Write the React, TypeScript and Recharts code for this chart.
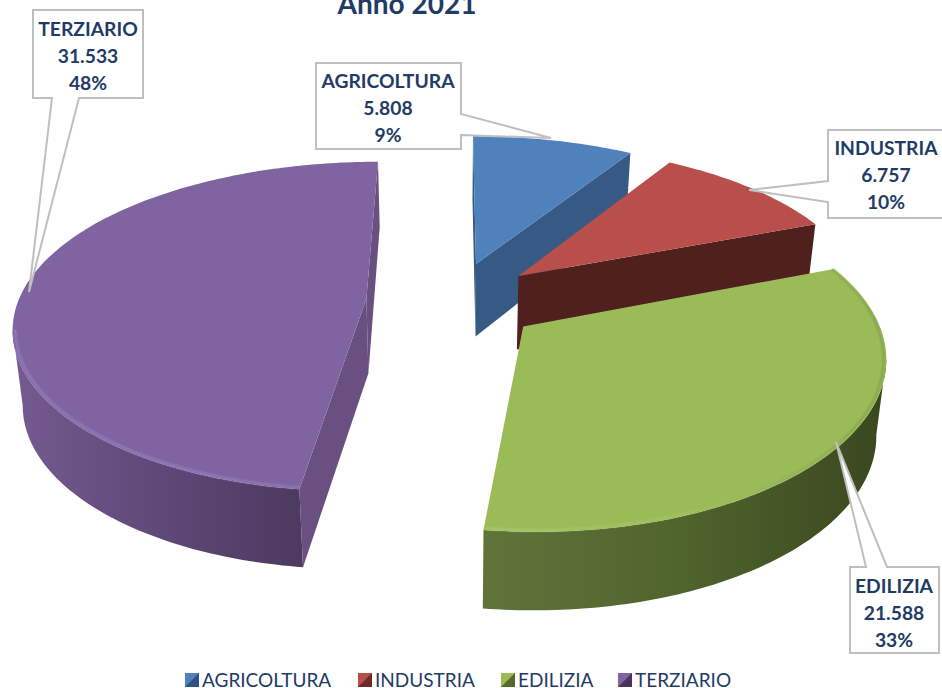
import { PieChart, Pie, Legend } from 'recharts';

const categories = ['AGRICOLTURA', 'INDUSTRIA', 'EDILIZIA', 'TERZIARIO'];
const values = [5808, 6757, 21588, 31533];
const topColors = ['#4f81bd', '#b94f4b', '#9bbb59', '#8064a2'];
const sideColors = ['#375a85', '#4f201d', '#556b2f', '#6a5080'];
const legendDark = ['#2f5180', '#6e2a28', '#55692f', '#46345c'];
const rimStops = [
  ['#375a85', '#375a85'],
  ['#4f201d', '#4f201d'],
  ['#60743a', '#4f632c', '#3a4720'],
  ['#755a90', '#5f4978', '#4c3a60'],
];
const bevelStops = [null, null, ['#acca6c', '#a5c364', '#7d9a47'], ['#9c82c2', '#9c82c2', '#9077b0']];

const data = categories.map((name, i) => ({ name, value: values[i], fill: topColors[i] }));

const FONT = 'Lato, Carlito, sans-serif';
const NAVY = '#1f3b66';
const SQUASH = 0.462; // depth foreshortening
const PERSPECTIVE_Y = 0.17;
const PERSPECTIVE_X = 0.155;
const EXPLODE = 0.25;

// callout boxes: outline + centre of text
const callouts = [
  { x: 388, y: 80, points: '316,63 461,63 461,114 551,138 461,135 461,149 316,149' },
  { x: 886, y: 147, points: '828,130 950,130 950,218 828,218 828,202 749,190 828,181' },
  { x: 894, y: 585, points: '850,567 866,567 836,442 887,567 939,567 939,653 850,653' },
  { x: 88, y: 28, points: '33,10 143,10 143,98 79,98 29,292 52,98 33,98' },
];

type Pt = { x: number; y: number; w: number };

function SliceShape(props: any) {
  const { cx, cy, outerRadius: R, startAngle, endAngle, name } = props;
  const i = categories.indexOf(name);

  // recharts angles run counter-clockwise from 3 o'clock, turn into clockwise from 12
  const from = 90 - startAngle;
  const to = 90 - endAngle;
  const mid = ((from + to) / 2) * (Math.PI / 180);
  const ox = EXPLODE * Math.sin(mid);
  const oy = EXPLODE * Math.cos(mid);

  const project = (u: number, v: number): Pt => {
    const X = ox + u;
    const Y = oy + v;
    const w = 1 + PERSPECTIVE_Y * Y;
    return { x: cx + (R * X) / (1 + PERSPECTIVE_X * Y), y: cy - (R * SQUASH * Y) / w, w };
  };
  const lower = (p: Pt) => {
    const t = p.w > 1 ? 75 - 55 * (p.w - 1) : 75 - 18 * (p.w - 1);
    return { x: cx + (p.x - cx) * 0.977, y: p.y + t };
  };
  const line = (pts: { x: number; y: number }[]) =>
    pts.map((p, k) => `${k ? 'L' : 'M'}${p.x.toFixed(1)} ${p.y.toFixed(1)}`).join(' ');
  const poly = (pts: { x: number; y: number }[]) => line(pts) + ' Z';

  const apex = project(0, 0);
  const rim: Pt[] = [];
  const inner: Pt[] = [];
  const steps = Math.ceil(to - from);
  for (let k = 0; k <= steps; k++) {
    const a = (from + ((to - from) * k) / steps) * (Math.PI / 180);
    rim.push(project(Math.sin(a), Math.cos(a)));
    inner.push(project(0.993 * Math.sin(a), 0.993 * Math.cos(a)));
  }

  // an edge walked clockwise shows its wall only when it runs leftwards
  const isFront = (k: number) =>
    (k > 0 && rim[k].x < rim[k - 1].x) || (k < rim.length - 1 && rim[k + 1].x < rim[k].x);
  const showStart = rim[0].x < apex.x;
  const showEnd = apex.x < rim[rim.length - 1].x;
  const run = rim.filter((_, k) => isFront(k));
  const gradId = `rim-${i}`;
  const bevelId = `bevel-${i}`;
  const stops = rimStops[i];
  const bevel = bevelStops[i];
  const rimPath = poly([...run, ...[...run].reverse().map(lower)]);
  const xMin = Math.min(...rim.map((p) => p.x));
  const xMax = Math.max(...rim.map((p) => p.x));
  // green keeps its soft edge all round, purple only along the front
  const bevelLine = name === 'EDILIZIA' ? inner : inner.filter((_, k) => isFront(k));

  return (
    <g>
      {run.length > 1 && (
        <>
          <defs>
            <linearGradient
              id={gradId}
              gradientUnits="userSpaceOnUse"
              x1={Math.min(...run.map((p) => p.x))}
              x2={Math.max(...run.map((p) => p.x))}
              y1={0}
              y2={0}
            >
              {stops.map((c, k) => (
                <stop key={k} offset={k / (stops.length - 1)} stopColor={c} />
              ))}
            </linearGradient>
          </defs>
          <path d={rimPath} fill={`url(#${gradId})`} />
        </>
      )}
      {showStart && <path d={poly([apex, rim[0], lower(rim[0]), lower(apex)])} fill={sideColors[i]} />}
      {showEnd && (
        <path
          d={poly([rim[rim.length - 1], apex, lower(apex), lower(rim[rim.length - 1])])}
          fill={sideColors[i]}
        />
      )}
      <path d={poly([apex, ...rim])} fill={topColors[i]} />
      {bevel && (
        <>
          <defs>
            <linearGradient id={bevelId} gradientUnits="userSpaceOnUse" x1={xMin} x2={xMax} y1={0} y2={0}>
              {bevel.map((c, k) => (
                <stop key={k} offset={k / (bevel.length - 1)} stopColor={c} />
              ))}
            </linearGradient>
          </defs>
          <path d={line(bevelLine)} fill="none" stroke={`url(#${bevelId})`} strokeWidth={5} strokeOpacity={0.2} />
          <path d={line(bevelLine)} fill="none" stroke={`url(#${bevelId})`} strokeWidth={2.5} strokeOpacity={0.4} />
        </>
      )}
    </g>
  );
}

function CalloutLabel(props: any) {
  const { index, name, value, percent } = props;
  const box = callouts[index];
  const lines = [name, String(value).replace(/\B(?=(\d{3})+$)/g, '.'), `${Math.round(percent * 100)}%`];
  return (
    <g>
      <polygon points={box.points} fill="#ffffff" stroke="#bfbfbf" strokeWidth={2} />
      {lines.map((t, k) => (
        <text
          key={k}
          x={box.x}
          y={box.y + k * 27}
          textAnchor="middle"
          dominantBaseline="central"
          fontFamily={FONT}
          fontWeight={700}
          fontSize={19.3}
          fill={NAVY}
        >
          {t}
        </text>
      ))}
    </g>
  );
}

function LegendRow({ payload }: any) {
  const gaps = [0, 173, 316, 433];
  return (
    <div style={{ position: 'relative', height: 17 }}>
      {(payload || []).map((entry: any, i: number) => (
        <div
          key={entry.value}
          style={{
            position: 'absolute',
            left: gaps[i],
            top: 0,
            display: 'flex',
            alignItems: 'center',
            height: 17,
            whiteSpace: 'nowrap',
          }}
        >
          <svg width={14} height={14} style={{ marginRight: 3 }}>
            <rect width={14} height={14} fill={topColors[i]} />
            <polygon points="14,0 14,14 0,14" fill={legendDark[i]} />
          </svg>
          <span
            style={{ display: 'inline-block', height: 17, fontFamily: FONT, fontSize: 19, color: NAVY, lineHeight: '17px' }}
          >
            {entry.value}
          </span>
        </div>
      ))}
    </div>
  );
}

export default function App() {
  return (
    <div style={{ position: 'absolute', left: 0, top: 0, width: 942, height: 688, overflow: 'hidden' }}>
      <PieChart width={942} height={688} margin={{ top: 0, right: 0, bottom: 0, left: 0 }}>
        <text x={407} y={14} textAnchor="middle" fontFamily={FONT} fontWeight={700} fontSize={28} fill={NAVY}>
          Anno 2021
        </text>
        <Pie
          data={data}
          dataKey="value"
          nameKey="name"
          cx={453}
          cy={301}
          outerRadius={348}
          startAngle={90}
          endAngle={-270}
          stroke="none"
          isAnimationActive={false}
          shape={SliceShape}
          label={CalloutLabel}
          labelLine={false}
        />
        <Legend
          itemSorter={null}
          content={<LegendRow />}
          wrapperStyle={{ position: 'absolute', left: 185, top: 671, width: 560, height: 17, bottom: 'auto' }}
        />
      </PieChart>
    </div>
  );
}
